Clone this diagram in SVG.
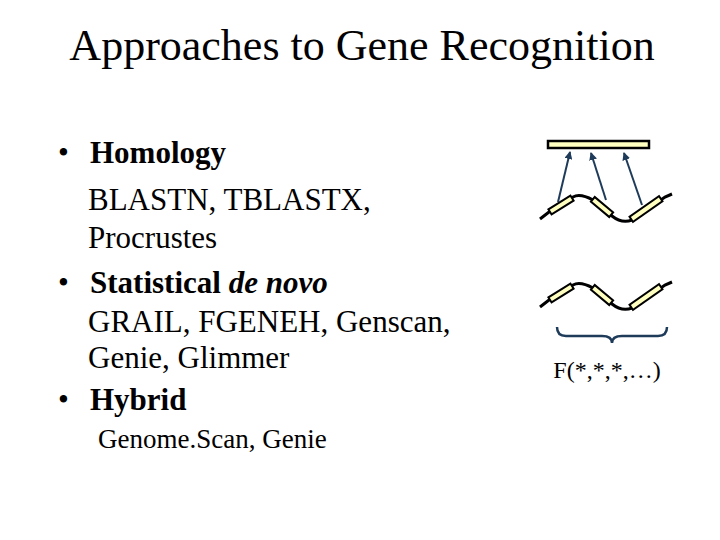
<svg xmlns="http://www.w3.org/2000/svg" width="720" height="540" viewBox="0 0 720 540">
<style>
text{font-family:"Liberation Serif",serif;fill:#000}
.b{font-size:31px}
.c{fill:none;stroke:#000;stroke-width:3}
.g{fill:#ffffc0;stroke:#000;stroke-width:2}
.a{stroke:#1f3b5a;stroke-width:2}
</style>
<defs>
<marker id="m" markerWidth="8" markerHeight="8" refX="7" refY="4" orient="auto" markerUnits="userSpaceOnUse"><path d="M0,0L8,4L0,8z" fill="#1f3b5a"/></marker>
<g id="dna">
<path class="c" d="M540,219 L549,212 L573,197 Q580,193 593,200 L612,216 Q622,224 632,220 L665,197 L672,194"/>
<rect class="g" x="-13" y="-3" width="26" height="6" transform="translate(561,205) rotate(-32)"/>
<rect class="g" x="-12" y="-3" width="24" height="6" transform="translate(602,207) rotate(40)"/>
<rect class="g" x="-18" y="-3" width="36" height="6" transform="translate(646,209) rotate(-35)"/>
</g>
</defs>
<text x="362" y="60" font-size="44" text-anchor="middle">Approaches to Gene Recognition</text>
<g id="list">
<text class="b" x="58" y="163">•</text><text class="b" x="90" y="163" font-weight="bold">Homology</text>
<text class="b" x="88" y="210">BLASTN, TBLASTX,</text>
<text class="b" x="88" y="248">Procrustes</text>
<text class="b" x="58" y="293">•</text><text class="b" x="90" y="293" font-weight="bold">Statistical <tspan font-style="italic">de novo</tspan></text>
<text class="b" x="88" y="332">GRAIL, FGENEH,  Genscan,</text>
<text class="b" x="88" y="368">Genie, Glimmer</text>
<text class="b" x="58" y="410">•</text><text class="b" x="90" y="410" font-weight="bold">Hybrid</text>
<text x="98" y="448" font-size="27">Genome.Scan, Genie</text>
</g>
<g id="top">
<rect x="548" y="141" width="101" height="7" fill="#ffffc0" stroke="#000" stroke-width="2.5"/>
<use href="#dna"/>
</g>
<g id="connectors">
<line class="a" x1="558" y1="202" x2="570" y2="152" marker-end="url(#m)"/>
<line class="a" x1="606" y1="200" x2="591" y2="153" marker-end="url(#m)"/>
<line class="a" x1="642" y1="205" x2="624" y2="153" marker-end="url(#m)"/>
</g>
<g id="bottom">
<use href="#dna" transform="translate(0,88)"/>
<path d="M557,327 Q557,336 566,336 L602,336 Q612,336 612,343 Q612,336 622,336 L658,336 Q667,336 667,327" fill="none" stroke="#1f3b5a" stroke-width="2.5"/>
<text x="607" y="378" font-size="24" text-anchor="middle">F(*,*,*,…)</text>
</g>
</svg>
